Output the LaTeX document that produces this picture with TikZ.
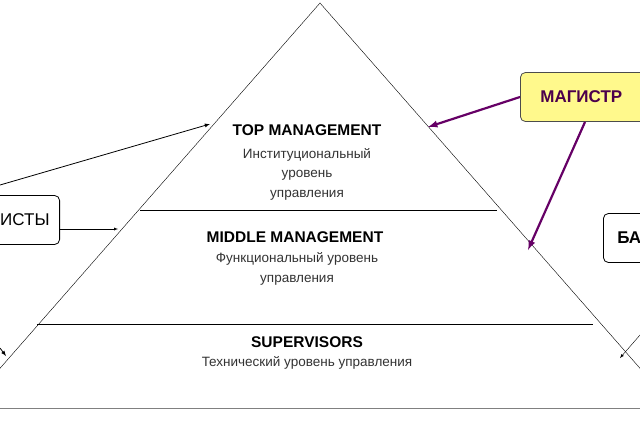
\documentclass[tikz,border=0pt]{standalone}
\usepackage{fontspec}
\setmainfont{Liberation Sans}
\begin{document}
\begin{tikzpicture}[x=1pt,y=-1pt,
 lvl/.style={font=\bfseries\fontsize{15.5}{17}\selectfont},
 sub/.style={font=\fontsize{13.5}{19.5}\selectfont,color=black!80,align=center},
 tag/.style={draw,rounded corners=5pt,thick,minimum height=49pt,font=\fontsize{17}{19}\selectfont},
 purp/.style={draw=violet!80!black,line width=2.2pt,-latex}]
\useasboundingbox (0,0) rectangle (640,426);
\fill[white] (0,0) rectangle (640,426);
\begin{scope}
\clip (0,0) rectangle (640,426);
\coordinate (apex) at (320,3);
\coordinate (bl) at (-12,382);
\coordinate (br) at (652,382);
\draw (bl) -- (apex) -- (br);
\coordinate (m1l) at (140,210); \coordinate (m1r) at (497,210);
\coordinate (m2l) at (37,324); \coordinate (m2r) at (593,324);
\draw (m1l) -- (m1r);
\draw (m2l) -- (m2r);
\draw[gray,thick] (0,408) -- (640,408);
\node[lvl] (tm) at (307,130) {TOP MANAGEMENT};
\node[sub] (tms) at (307,174) {Институциональный\\уровень\\управления};
\node[lvl] (mm) at (295,237) {MIDDLE MANAGEMENT};
\node[sub] (mms) at (297,269) {Функциональный уровень\\управления};
\node[lvl] (sv) at (307,342) {SUPERVISORS};
\node[sub] (svs) at (307,363) {Технический уровень управления};
\node[tag,anchor=east,minimum width=90pt,align=right,text width=70pt] (ist) at (60,220) {ИСТЫ\hspace*{4pt}};
\node[tag,anchor=west,fill=yellow!45,text=violet!60!black,font=\bfseries\fontsize{17}{19}\selectfont,minimum width=140pt,text width=126pt,draw=black!70] (mag) at (520,97) {\hspace*{13pt}МАГИСТР};
\node[tag,anchor=west,minimum width=60pt,text width=50pt,font=\bfseries\fontsize{17}{19}\selectfont] (ba) at (603,238) {\hspace*{9pt}БА};
\coordinate (lt) at (0,185);
\coordinate (ta) at (210,124);
\draw[-latex,thick] (lt) -- (ta);
\coordinate (ia) at (118,229);
\draw[-latex] (ist.east |- ia) -- (ia);
\coordinate (tmr) at (428,127);
\draw[purp] (mag.west) -- (tmr);
\coordinate (mmr) at (528,250);
\coordinate (mgb) at (585,122);
\draw[purp] (mgb) -- (mmr);
\coordinate (b1) at (640,335); \coordinate (b2) at (620,358);
\draw[-latex] (b1) -- (b2);
\coordinate (c1) at (0,348); \coordinate (c2) at (6,356);
\draw[-latex,thick] (c1) -- (c2);
\end{scope}
\end{tikzpicture}
\end{document}
